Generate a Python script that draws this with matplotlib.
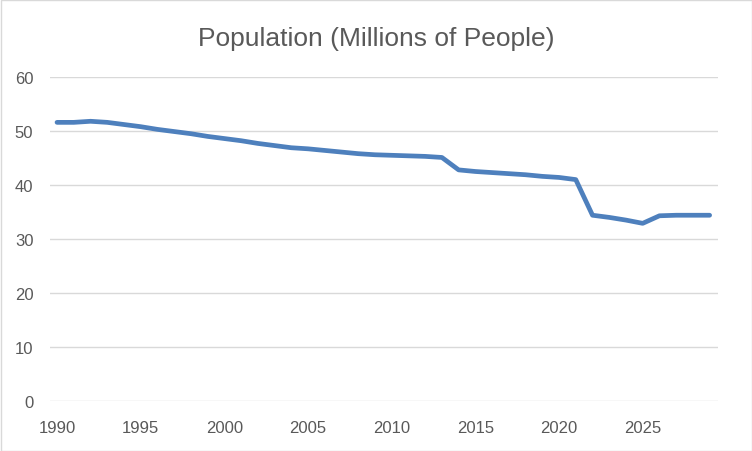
import matplotlib.pyplot as plt
from matplotlib.patches import Rectangle

years = list(range(1990, 2030))
population = [
    51.6, 51.6, 51.8, 51.6, 51.2, 50.8, 50.3, 49.9, 49.5, 49.0,
    48.6, 48.2, 47.7, 47.3, 46.9, 46.7, 46.4, 46.1, 45.8, 45.6,
    45.5, 45.4, 45.3, 45.1, 42.8, 42.5, 42.3, 42.1, 41.9, 41.6,
    41.4, 41.0, 34.4, 34.0, 33.5, 32.9, 34.3, 34.4, 34.4, 34.4,
]
x_ticks = [1990, 1995, 2000, 2005, 2010, 2015, 2020, 2025]
y_ticks = [0, 10, 20, 30, 40, 50, 60]

plt.rcParams["font.family"] = ["Liberation Sans", "DejaVu Sans"]

fig = plt.figure(figsize=(7.52, 4.52), dpi=100)
ax = fig.add_axes([50 / 752, 1 - 402 / 452, 668 / 752, 324 / 452])

ax.plot(years, population, color="#4E80BD", linewidth=3.4,
        solid_capstyle="round", solid_joinstyle="round", zorder=3)

ax.set_xlim(1989.58, 2029.5)
ax.set_ylim(0, 60)
ax.set_xticks(x_ticks)
ax.set_yticks(y_ticks)
ax.grid(axis="y", color="#D9D9D9", linewidth=1.0)
ax.set_axisbelow(True)
for s in ax.spines.values():
    s.set_visible(False)
ax.tick_params(length=0, labelsize=12, colors="#595959")
ax.tick_params(axis="x", pad=14)
ax.tick_params(axis="y", pad=12)

fig.text(0.5, 1 - 39 / 452, "Population (Millions of People)", ha="center",
         va="center", fontsize=19, color="#595959")

fig.patches.append(Rectangle((0.5 / 752, 0.5 / 452), 751 / 752, 451 / 452,
                             transform=fig.transFigure, fill=False,
                             edgecolor="#D9D9D9", linewidth=1.0))

fig.savefig("out.png", dpi=100)
